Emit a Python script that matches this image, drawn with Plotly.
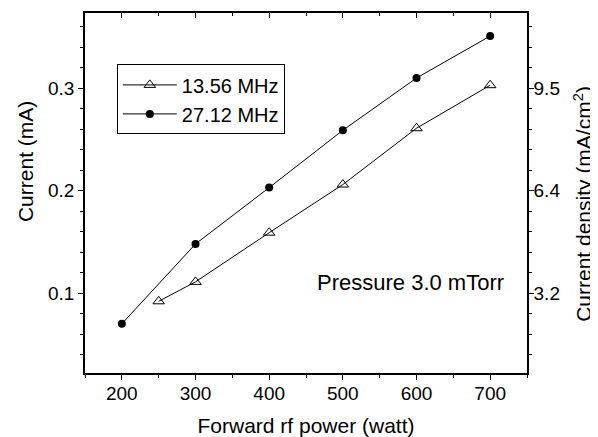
import plotly.graph_objects as go

# Data
power_1356 = [250, 300, 400, 500, 600, 700]
current_1356 = [0.092, 0.111, 0.159, 0.206, 0.261, 0.303]
power_2712 = [200, 300, 400, 500, 600, 700]
current_2712 = [0.070, 0.148, 0.203, 0.259, 0.310, 0.351]

current_ticks = [0.1, 0.2, 0.3]
density_labels = ["3.2", "6.4", "9.5"]
x_ticks = [200, 300, 400, 500, 600, 700]

FONT = "Arial, Liberation Sans, sans-serif"
x_range = [150, 750]
y_range = [0.022, 0.3735]

fig = go.Figure()
fig.add_trace(go.Scatter(
    x=power_1356, y=current_1356, name="13.56 MHz", mode="lines+markers",
    line=dict(color="black", width=1),
    marker=dict(symbol="triangle-up-open", size=10, color="black", line=dict(width=1)),
))
fig.add_trace(go.Scatter(
    x=power_2712, y=current_2712, name="27.12 MHz", mode="lines+markers",
    line=dict(color="black", width=1),
    marker=dict(symbol="circle", size=8, color="black"),
))
# helper traces so the top and right axes are drawn
fig.add_trace(go.Scatter(x=[None], y=[None], xaxis="x2", yaxis="y", showlegend=False, hoverinfo="skip"))
fig.add_trace(go.Scatter(x=[None], y=[None], xaxis="x", yaxis="y2", showlegend=False, hoverinfo="skip"))

axis_common = dict(showline=True, linecolor="black", linewidth=1.5, showgrid=False, automargin=False,
                   zeroline=False, ticks="outside", ticklen=5, tickwidth=1.2, tickcolor="black",
                   tickfont=dict(family=FONT, size=19, color="black"))
minor_out = dict(tick0=0, ticks="outside", ticklen=3, tickcolor="black", tickwidth=1.2)

# the page has an 8px body margin, so the figure is sized to fill the rest of the window
fig.update_layout(
    width=590, height=429,
    margin=dict(l=77, r=71, t=5, b=64),
    paper_bgcolor="white", plot_bgcolor="white",
    font=dict(family=FONT, size=19, color="black"),
    showlegend=True,
    legend=dict(x=0.072, y=0.760, xanchor="left", yanchor="middle",
                bordercolor="black", borderwidth=1, bgcolor="white",
                font=dict(family=FONT, size=20, color="black"),
                itemwidth=54, tracegroupgap=0),
    xaxis=dict(range=x_range, tickvals=x_ticks, **axis_common, ticklabelstandoff=-3,
               minor=dict(dtick=50, **minor_out),
               title=dict(text="Forward rf power (watt)", font=dict(family=FONT, size=21), standoff=16)),
    xaxis2=dict(range=x_range, overlaying="x", side="top", anchor="y",
                showline=True, linecolor="black", linewidth=1.5, showgrid=False, zeroline=False,
                ticks="inside", ticklen=5, tickwidth=1.2, tickcolor="black", tickvals=x_ticks,
                showticklabels=False, automargin=False,
                minor=dict(dtick=50, tick0=0, ticks="inside", ticklen=3, tickcolor="black", tickwidth=1.2)),
    yaxis=dict(range=y_range, tickvals=current_ticks, **axis_common,
               minor=dict(dtick=0.02, **minor_out)),
    yaxis2=dict(range=y_range, overlaying="y", side="right", anchor="x",
                tickvals=current_ticks, ticktext=density_labels, **axis_common, ticklabelstandoff=-4,
                minor=dict(dtick=0.02, **minor_out)),
    annotations=[
        dict(text="Pressure 3.0 mTorr", x=592, y=0.110, xref="x", yref="y",
             showarrow=False, font=dict(family=FONT, size=22, color="black")),
        dict(text="Current (mA)", x=-0.1357, y=0.586, xref="paper", yref="paper",
             xanchor="center", yanchor="middle", textangle=-90, showarrow=False,
             font=dict(family=FONT, size=21, color="black")),
        dict(text="Current density (mA/cm<sup>2</sup>)", x=1.126, y=0.469, xref="paper", yref="paper",
             xanchor="center", yanchor="middle", textangle=-90, showarrow=False,
             font=dict(family=FONT, size=21, color="black")),
    ],
)

fig.write_html("out.html")
